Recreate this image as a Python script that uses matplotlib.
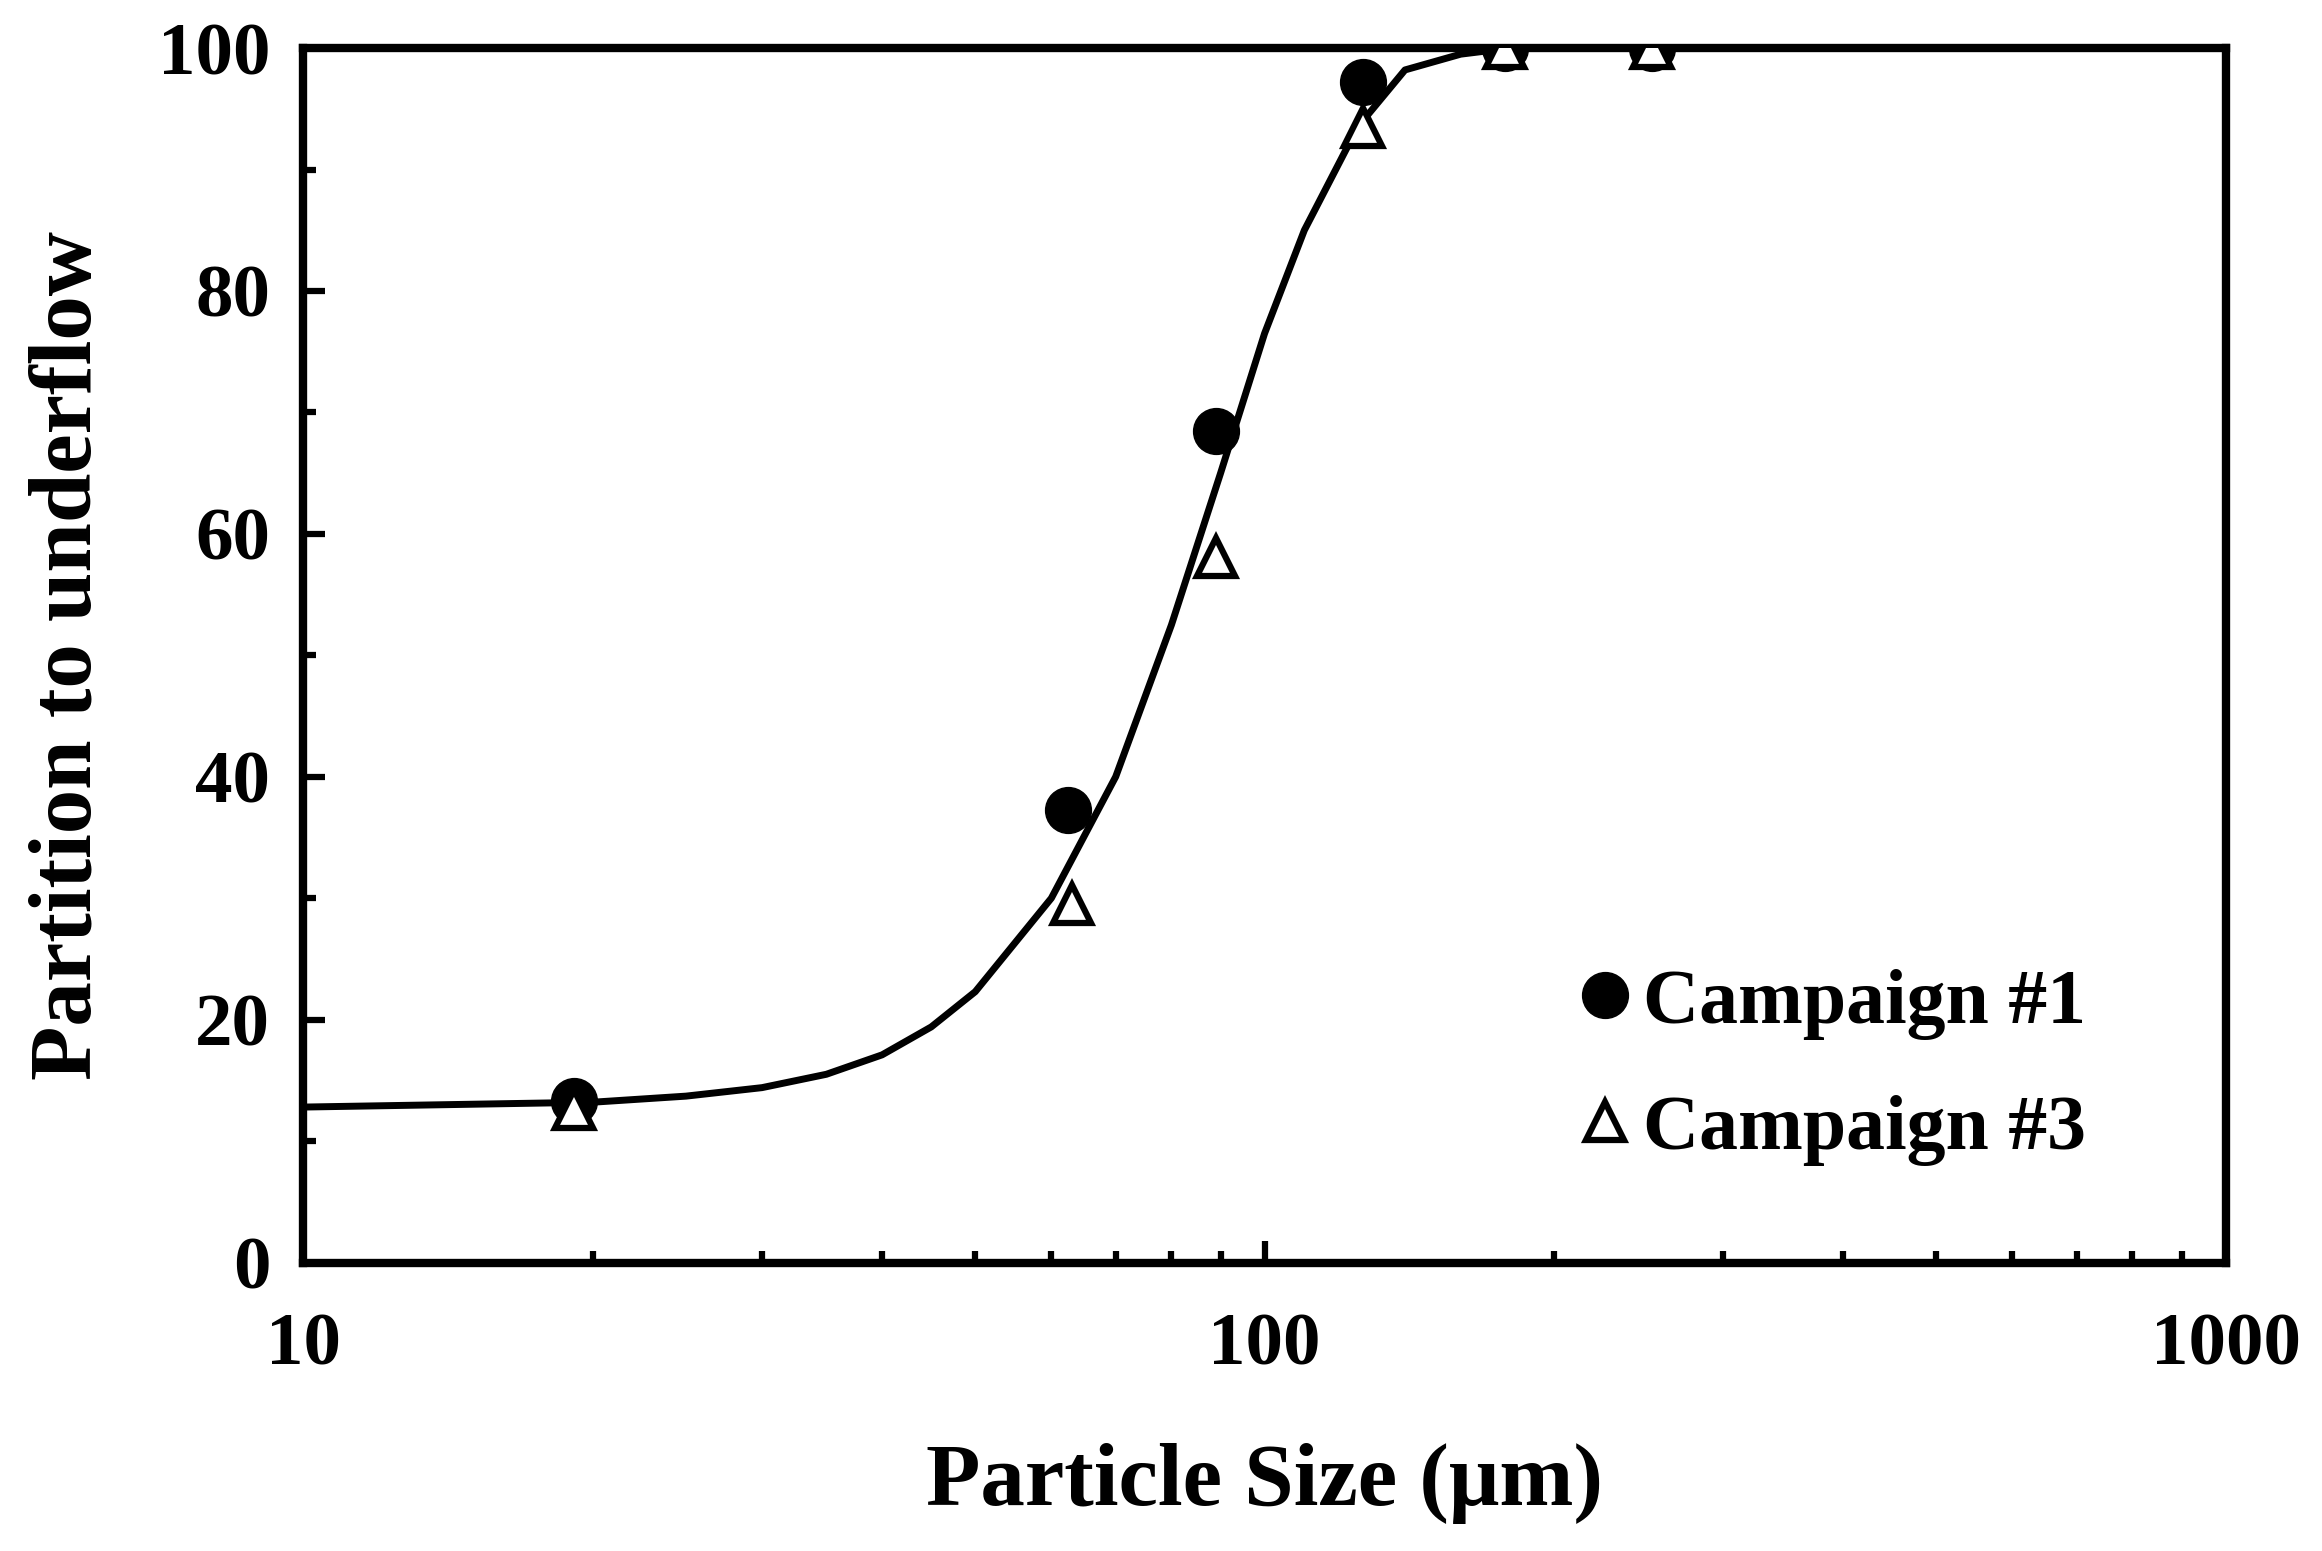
import numpy as np
import matplotlib
matplotlib.use("Agg")
import matplotlib.pyplot as plt
from matplotlib.ticker import MultipleLocator, LogLocator, NullFormatter, FixedLocator

plt.rcParams['font.family'] = ['Liberation Serif', 'DejaVu Serif']
plt.rcParams['font.weight'] = 'bold'

# data
size_c1 = [19.1, 62.5, 89, 126.5, 178, 253]
part_c1 = [13.3, 37.3, 68.5, 97.2, 100, 100]
size_c3 = [19.1, 63, 89, 126.5, 178, 253]
part_c3 = [12.6, 29.5, 58.1, 93.5, 100, 100]

# fitted curve
fit_x = [10, 20, 25, 30, 35, 40, 45, 50, 60, 70, 80, 90, 100, 110, 125, 140, 160, 180, 1000]
fit_y = [12.8, 13.2, 13.7, 14.4, 15.5, 17.1, 19.4, 22.3, 30, 40, 52.5, 65, 76.5, 85, 93.5, 98.2, 99.5, 100, 100]

fig = plt.figure(figsize=(23.22, 15.51), dpi=100)
ax = fig.add_axes([0.1307, 0.186, 0.8278, 0.783])

ax.plot(fit_x, fit_y, color='black', lw=5, zorder=2)
ax.plot(size_c1, part_c1, 'o', color='black', ms=33, ls='none', label='Campaign #1', zorder=3)
ax.plot(size_c3, part_c3, '^', mfc='white', mec='black', mew=4.5, ms=28, ls='none',
        label='Campaign #3', zorder=4)

ax.set_xscale('log')
ax.set_xlim(10, 1000)
ax.set_ylim(0, 100)
ax.xaxis.set_major_locator(FixedLocator([10, 100, 1000]))
ax.set_xticklabels(['10', '100', '1000'])
ax.xaxis.set_minor_locator(LogLocator(base=10, subs=np.arange(2, 10)))
ax.xaxis.set_minor_formatter(NullFormatter())
ax.yaxis.set_major_locator(MultipleLocator(20))
ax.yaxis.set_minor_locator(MultipleLocator(10))

ax.tick_params(which='both', direction='in', width=4.5, labelsize=54, pad=24)
ax.tick_params(which='major', length=16)
ax.tick_params(which='minor', length=9)
ax.tick_params(axis='x', which='both', top=False)
ax.tick_params(axis='x', pad=36)
for lab in ax.get_xticklabels() + ax.get_yticklabels():
    lab.set_fontweight('bold')
for sp in ax.spines.values():
    sp.set_linewidth(6)

ax.set_xlabel('Particle Size (\u03bcm)', fontsize=64, fontweight='bold', labelpad=45)
ax.set_ylabel('Partition to underflow', fontsize=64, fontweight='bold', labelpad=35)

leg = ax.legend(loc='upper left', bbox_to_anchor=(0.6, 0.3), frameon=False,
                prop={'size': 56, 'weight': 'bold'}, handletextpad=-0.5,
                labelspacing=0.7, markerscale=1.0)

fig.savefig('out.png', dpi=100)
